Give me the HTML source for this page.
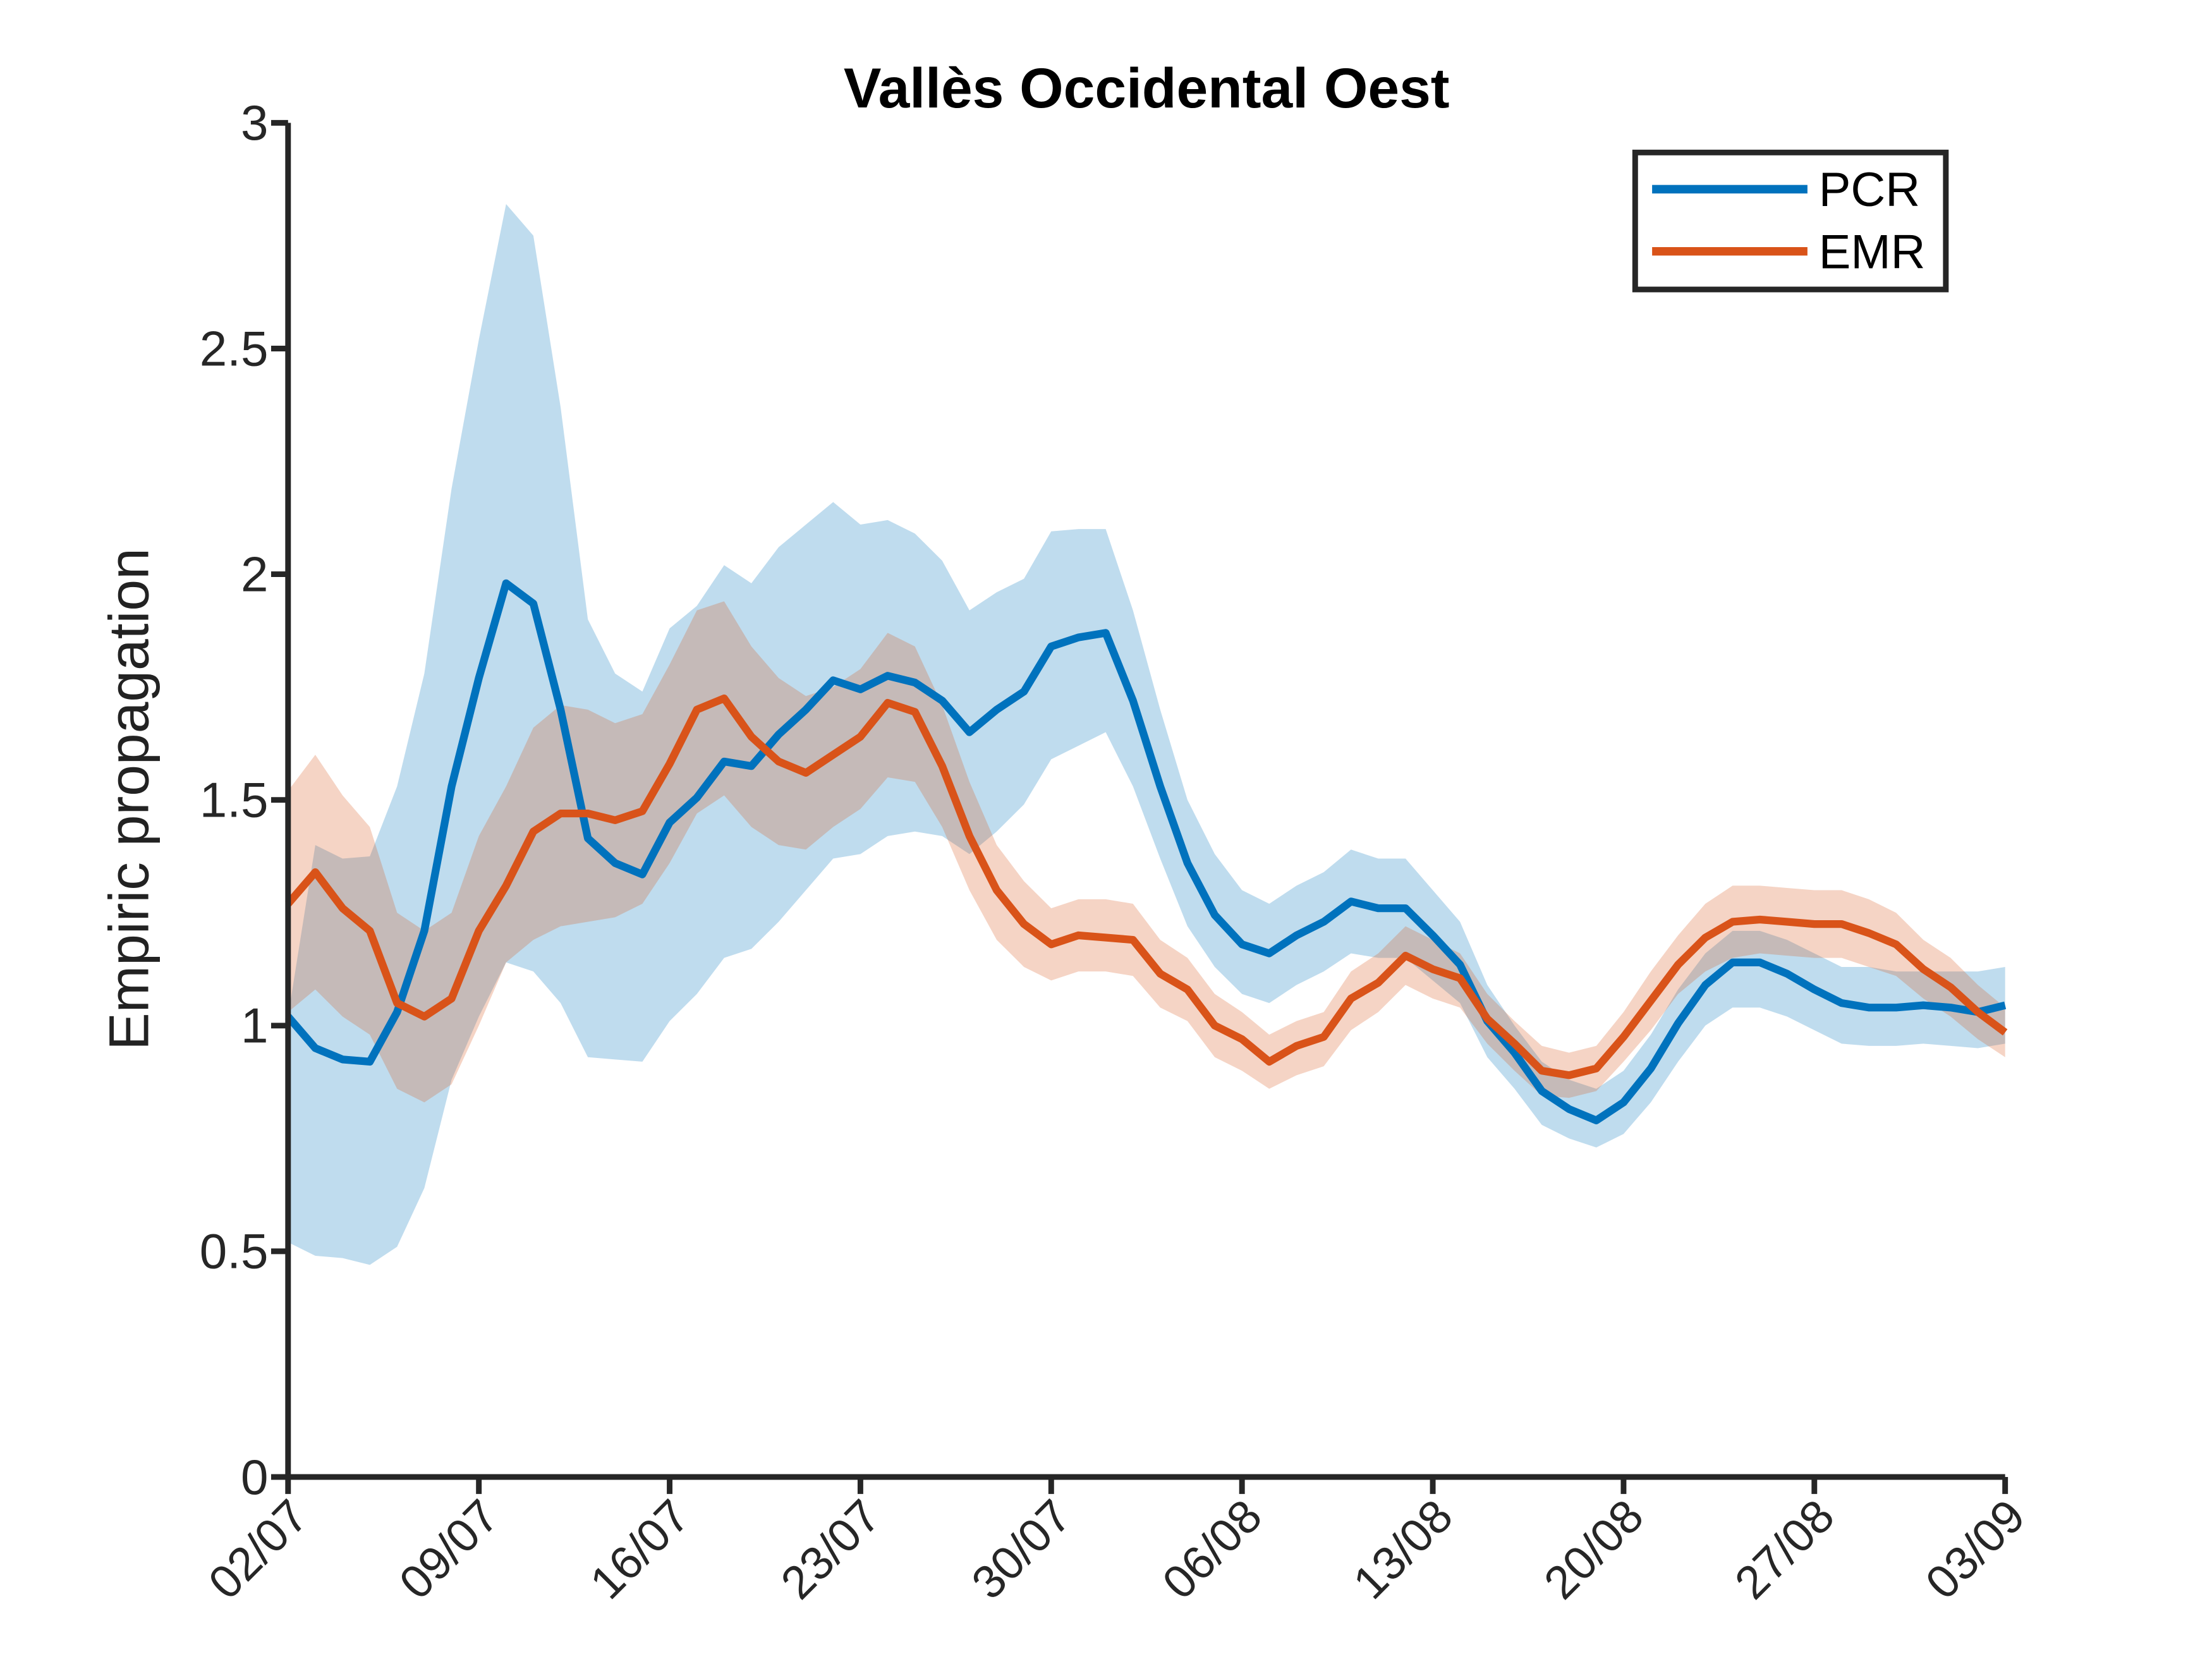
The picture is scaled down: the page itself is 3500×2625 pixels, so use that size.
<!DOCTYPE html>
<html><head><meta charset="utf-8"><style>html,body{margin:0;padding:0;background:#fff}svg{display:block}</style></head>
<body>
<svg id="chart" width="3500" height="2625" viewBox="0 0 1566.5 1174.9" preserveAspectRatio="none" xmlns="http://www.w3.org/2000/svg" font-family="'Liberation Sans', Arial, sans-serif">
<rect width="1566.5" height="1174.9" fill="#fff"/>
<text x="812" y="76" text-anchor="middle" font-size="40" font-weight="bold">Vallès Occidental Oest</text>
<text transform="translate(105,566) rotate(-90)" text-anchor="middle" font-size="40" fill="#222">Empiric propagation</text>
<g id="bands"></g><g id="lines"></g><g id="axes"></g>
<g>
<rect x="1158" y="108" width="220" height="97" fill="#fff" stroke="#262626" stroke-width="4"/>
<line x1="1170" y1="134" x2="1280" y2="134" stroke="#0072BD" stroke-width="6"/>
<text x="1288" y="146" font-size="34">PCR</text>
<line x1="1170" y1="178" x2="1280" y2="178" stroke="#D95319" stroke-width="6"/>
<text x="1288" y="190" font-size="34">EMR</text>
</g>
</svg>
<script>
const pcr=[1.02,0.95,0.925,0.92,1.03,1.21,1.53,1.77,1.98,1.935,1.70,1.415,1.36,1.335,1.45,1.505,1.585,1.575,1.645,1.70,1.765,1.745,1.775,1.76,1.72,1.65,1.70,1.74,1.84,1.86,1.87,1.72,1.53,1.36,1.245,1.18,1.16,1.20,1.23,1.275,1.26,1.26,1.20,1.135,1.01,0.94,0.855,0.815,0.79,0.83,0.905,1.005,1.09,1.14,1.14,1.115,1.08,1.05,1.04,1.04,1.045,1.04,1.03,1.045];
const pcrUpper=[1.02,1.40,1.37,1.375,1.53,1.78,2.19,2.52,2.82,2.75,2.37,1.90,1.78,1.74,1.88,1.93,2.02,1.98,2.06,2.11,2.16,2.11,2.12,2.09,2.03,1.92,1.96,1.99,2.095,2.10,2.10,1.92,1.70,1.50,1.38,1.30,1.27,1.31,1.34,1.39,1.37,1.37,1.30,1.23,1.09,1.00,0.92,0.88,0.86,0.90,0.98,1.08,1.16,1.21,1.21,1.19,1.16,1.13,1.13,1.12,1.12,1.12,1.12,1.13];
const pcrLower=[0.52,0.49,0.485,0.47,0.51,0.64,0.88,1.02,1.14,1.12,1.05,0.93,0.925,0.92,1.01,1.07,1.15,1.17,1.23,1.30,1.37,1.38,1.42,1.43,1.42,1.38,1.43,1.49,1.59,1.62,1.65,1.53,1.37,1.22,1.13,1.07,1.05,1.09,1.12,1.16,1.15,1.15,1.10,1.05,0.93,0.86,0.78,0.75,0.73,0.76,0.83,0.92,1.00,1.04,1.04,1.02,0.99,0.96,0.955,0.955,0.96,0.955,0.95,0.96];
const emr=[1.27,1.34,1.26,1.21,1.05,1.02,1.06,1.21,1.31,1.43,1.47,1.47,1.455,1.475,1.58,1.70,1.725,1.64,1.585,1.56,1.60,1.64,1.715,1.695,1.575,1.42,1.30,1.225,1.18,1.20,1.195,1.19,1.115,1.08,1.00,0.97,0.92,0.955,0.975,1.06,1.095,1.155,1.125,1.105,1.015,0.96,0.90,0.89,0.905,0.975,1.055,1.135,1.195,1.23,1.235,1.23,1.225,1.225,1.205,1.18,1.125,1.085,1.03,0.985];
const emrUpper=[1.52,1.60,1.51,1.44,1.25,1.21,1.25,1.42,1.53,1.66,1.71,1.70,1.67,1.69,1.80,1.92,1.94,1.84,1.77,1.73,1.75,1.79,1.87,1.84,1.71,1.54,1.40,1.32,1.26,1.28,1.28,1.27,1.19,1.15,1.07,1.03,0.98,1.01,1.03,1.12,1.16,1.22,1.19,1.16,1.07,1.01,0.955,0.94,0.955,1.03,1.12,1.20,1.27,1.31,1.31,1.305,1.30,1.30,1.28,1.25,1.19,1.15,1.09,1.04];
const emrLower=[1.03,1.08,1.02,0.98,0.86,0.83,0.87,1.00,1.14,1.19,1.22,1.23,1.24,1.27,1.36,1.47,1.51,1.44,1.40,1.39,1.44,1.48,1.55,1.54,1.44,1.30,1.19,1.13,1.10,1.12,1.12,1.11,1.04,1.01,0.93,0.90,0.86,0.89,0.91,0.99,1.03,1.09,1.06,1.04,0.96,0.90,0.845,0.84,0.855,0.92,0.99,1.07,1.12,1.15,1.16,1.155,1.15,1.15,1.13,1.11,1.06,1.02,0.97,0.93];
const yTicks=[0,0.5,1,1.5,2,2.5,3];
const yTickLabels=["0","0.5","1","1.5","2","2.5","3"];
const xTickDays=[0,7,14,21,28,35,42,49,56,63];
const xTickLabels=["02/07","09/07","16/07","23/07","30/07","06/08","13/08","20/08","27/08","03/09"];
const NS="http://www.w3.org/2000/svg";
const X0=204,X1=1420,Y0=1046,Y3=87,NDAYS=63;
const xs=d=>X0+(X1-X0)*d/NDAYS;
const ys=v=>Y0-(Y0-Y3)*v/3;
function mk(tag,attrs,parent){const e=document.createElementNS(NS,tag);for(const k in attrs)e.setAttribute(k,attrs[k]);parent.appendChild(e);return e;}
const bands=document.getElementById('bands'),lines=document.getElementById('lines'),axes=document.getElementById('axes');
function band(up,lo,color,name){let d='';up.forEach((v,i)=>{d+=(i?'L':'M')+xs(i)+','+ys(v);});for(let i=lo.length-1;i>=0;i--)d+='L'+xs(i)+','+ys(lo[i]);d+='Z';
const p=mk('path',{d:d,fill:color,'fill-opacity':0.25,stroke:'none'},bands);

}
function line(arr,color,name){const p=mk('polyline',{points:arr.map((v,i)=>xs(i)+','+ys(v)).join(' '),fill:'none',stroke:color,'stroke-width':5.5,'stroke-linejoin':'round'},lines);

}
band(pcrUpper,pcrLower,'#0072BD','pcr-confidence-band');
band(emrUpper,emrLower,'#D95319','emr-confidence-band');
line(pcr,'#0072BD','pcr-line');
line(emr,'#D95319','emr-line');
const ya=mk('line',{x1:X0,y1:Y3,x2:X0,y2:Y0,stroke:'#262626','stroke-width':4},axes);


const xa=mk('line',{x1:X0,y1:Y0,x2:X1,y2:Y0,stroke:'#262626','stroke-width':4},axes);


yTicks.forEach((v,i)=>{mk('line',{x1:X0-12,y1:ys(v),x2:X0,y2:ys(v),stroke:'#262626','stroke-width':4},axes);
const t=mk('text',{x:X0-14,y:ys(v)+12,'text-anchor':'end','font-size':35,fill:'#262626'},axes);t.textContent=yTickLabels[i];

});
xTickDays.forEach((d,i)=>{mk('line',{x1:xs(d),y1:Y0,x2:xs(d),y2:Y0+12,stroke:'#262626','stroke-width':4},axes);
const t=mk('text',{transform:`translate(${xs(d)+16},${Y0+30}) rotate(-45)`,'text-anchor':'end','font-size':33,fill:'#262626'},axes);t.textContent=xTickLabels[i];

});
</script>
</body></html>
